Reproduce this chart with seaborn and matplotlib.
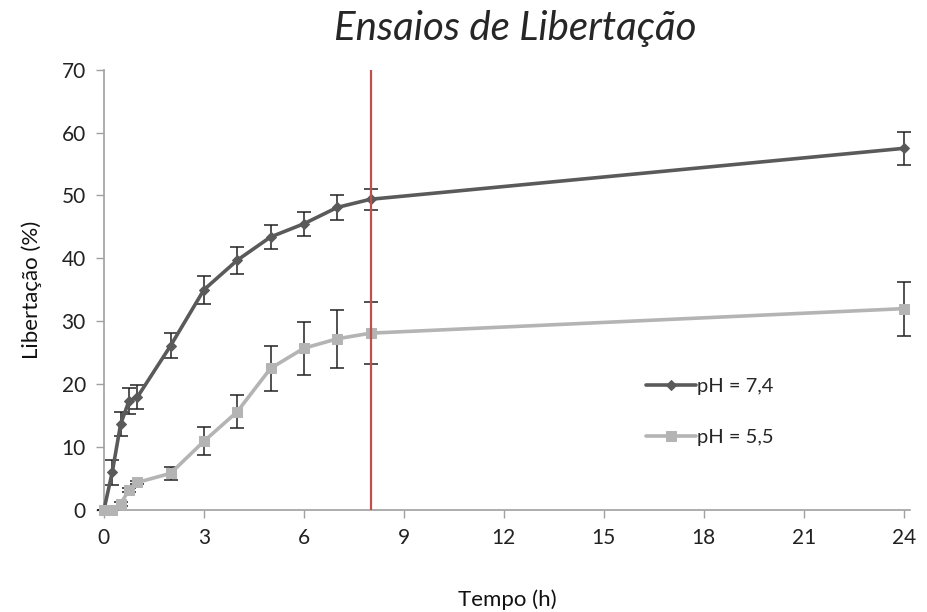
import numpy as np
import pandas as pd
import matplotlib
matplotlib.use("Agg")
import matplotlib.pyplot as plt
import seaborn as sns

# ---- data ----
time_h = [0, 0.25, 0.5, 0.75, 1, 2, 3, 4, 5, 6, 7, 8, 24]
ph74 = [0, 6.0, 13.6, 17.3, 17.9, 26.1, 35.0, 39.7, 43.4, 45.5, 48.1, 49.4, 57.5]
ph74_err = [0, 2.0, 1.9, 2.0, 1.9, 2.0, 2.25, 2.15, 1.9, 1.9, 2.0, 1.7, 2.6]
ph55 = [0, 0, 0.9, 3.2, 4.35, 5.8, 10.9, 15.6, 22.5, 25.7, 27.2, 28.1, 32.0]
ph55_err = [0, 0, 0.3, 0.3, 0.3, 1.05, 2.2, 2.65, 3.6, 4.2, 4.65, 4.9, 4.3]
series_labels = ["pH = 7,4", "pH = 5,5"]
x_ticks = [0, 3, 6, 9, 12, 15, 18, 21, 24]
y_ticks = [0, 10, 20, 30, 40, 50, 60, 70]
cutoff_time = 8

df = pd.concat([
    pd.DataFrame({"t": time_h, "v": ph74, "e": ph74_err, "s": series_labels[0]}),
    pd.DataFrame({"t": time_h, "v": ph55, "e": ph55_err, "s": series_labels[1]}),
])

sns.set_style("white")
plt.rcParams['font.family'] = ['Lato', 'DejaVu Sans']

fig = plt.figure(figsize=(9.28, 6.12), dpi=100)
ax = fig.add_axes([0.112, 0.167, 0.869, 0.719])

colors = {series_labels[0]: "#5a5a5a", series_labels[1]: "#b4b4b4"}
markers = {series_labels[0]: "D", series_labels[1]: "s"}
sizes = {series_labels[0]: 5, series_labels[1]: 7.5}

for lab in series_labels:
    sub = df[df["s"] == lab]
    ax.errorbar(sub["t"], sub["v"], yerr=sub["e"], fmt="none", ecolor="#222222",
                elinewidth=1.1, capsize=5, capthick=1.1, zorder=2, clip_on=False)

for lab in series_labels:
    sub = df[df["s"] == lab]
    sns.lineplot(data=sub, x="t", y="v", ax=ax, color=colors[lab], marker=markers[lab],
                 markersize=sizes[lab], markeredgecolor=colors[lab], linewidth=2.6,
                 label=lab, zorder=3, clip_on=False)

ax.axvline(cutoff_time, color="#c0504d", linewidth=1.6, zorder=4)

ax.set_xlim(0, 24.2)
ax.set_ylim(0, 70)
ax.set_xticks(x_ticks)
ax.set_yticks(y_ticks)
ax.tick_params(axis="both", which="both", direction="out", length=6, width=1,
               color="#a0a0a0", labelsize=15, labelcolor="#222222", left=True, bottom=True, pad=7)
for side in ["top", "right"]:
    ax.spines[side].set_visible(False)
for side in ["left", "bottom"]:
    ax.spines[side].set_color("#a0a0a0")
    ax.spines[side].set_linewidth(1.2)

ax.set_xlabel("Tempo (h)", fontsize=16, color="#111111", labelpad=30)
ax.set_ylabel("Libertação (%)", fontsize=16, color="#111111", labelpad=14)
fig.suptitle("Ensaios de Libertação", fontsize=29, style="italic", y=0.983, x=0.555)

leg = ax.legend(loc="center left", bbox_to_anchor=(0.672, 0.222), frameon=False,
                fontsize=14.5, labelspacing=1.7, handlelength=2.5, handletextpad=0.05,
                borderpad=0, borderaxespad=0)

fig.savefig("out.png", dpi=100)
